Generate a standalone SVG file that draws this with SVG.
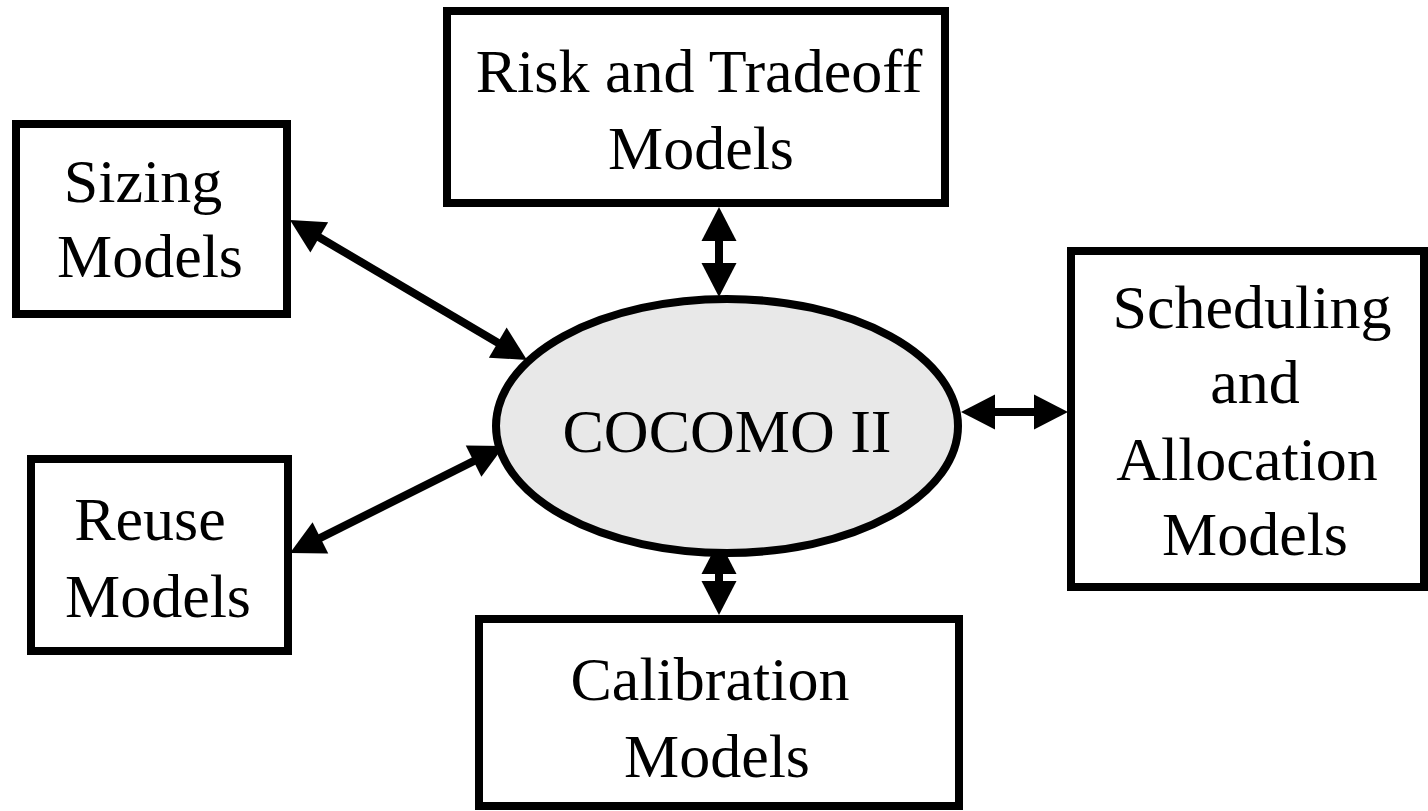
<svg xmlns="http://www.w3.org/2000/svg" width="1428" height="811" viewBox="0 0 1428 811">
<style>
.box{fill:#ffffff;stroke:#000000;stroke-width:8}
.core{fill:#e8e8e8;stroke:#000000;stroke-width:8}
.lbl{font-family:"Liberation Serif","Times New Roman",serif;font-size:62px;fill:#000000;text-anchor:middle}
.conn{stroke:#000000;stroke-width:8;fill:none;marker-start:url(#ah);marker-end:url(#ah)}
</style>
<defs>
<marker id="ah" markerUnits="userSpaceOnUse" markerWidth="40" markerHeight="40" refX="14" refY="17.5" orient="auto-start-reverse" overflow="visible">
<path d="M0,0 L34,17.5 L0,35 Z" fill="#000000"/>
</marker>
</defs>
<rect width="1428" height="811" fill="#ffffff"/>
<g id="connectors">
<line class="conn" x1="307.2" y1="230.2" x2="509.8" y2="349.8"/>
<line class="conn" x1="307.9" y1="544.1" x2="486.1" y2="454.9"/>
<line class="conn" x1="719" y1="227" x2="719" y2="277"/>
<line class="conn" x1="981" y1="412" x2="1048" y2="412"/>
<line class="conn" x1="719" y1="560" x2="719" y2="595"/>
</g>
<g id="cocomo">
<ellipse class="core" cx="727" cy="426" rx="231" ry="127"/>
<text class="lbl" x="727" y="452">COCOMO II</text>
</g>
<g id="risk">
<rect class="box" x="447" y="11" width="498" height="192"/>
<text class="lbl"><tspan x="699" y="92">Risk and Tradeoff</tspan><tspan x="701" y="169">Models</tspan></text>
</g>
<g id="sizing">
<rect class="box" x="16" y="124" width="271" height="190"/>
<text class="lbl"><tspan x="143" y="202">Sizing</tspan><tspan x="150" y="277">Models</tspan></text>
</g>
<g id="reuse">
<rect class="box" x="31" y="459" width="257" height="192"/>
<text class="lbl"><tspan x="150" y="540">Reuse</tspan><tspan x="158" y="617">Models</tspan></text>
</g>
<g id="scheduling">
<rect class="box" x="1071" y="251" width="353" height="336"/>
<text class="lbl"><tspan x="1252" y="328">Scheduling</tspan><tspan x="1255" y="403">and</tspan><tspan x="1247" y="480">Allocation</tspan><tspan x="1255" y="555">Models</tspan></text>
</g>
<g id="calibration">
<rect class="box" x="479" y="619" width="480" height="187"/>
<text class="lbl"><tspan x="710" y="700">Calibration</tspan><tspan x="717" y="777">Models</tspan></text>
</g>
</svg>
